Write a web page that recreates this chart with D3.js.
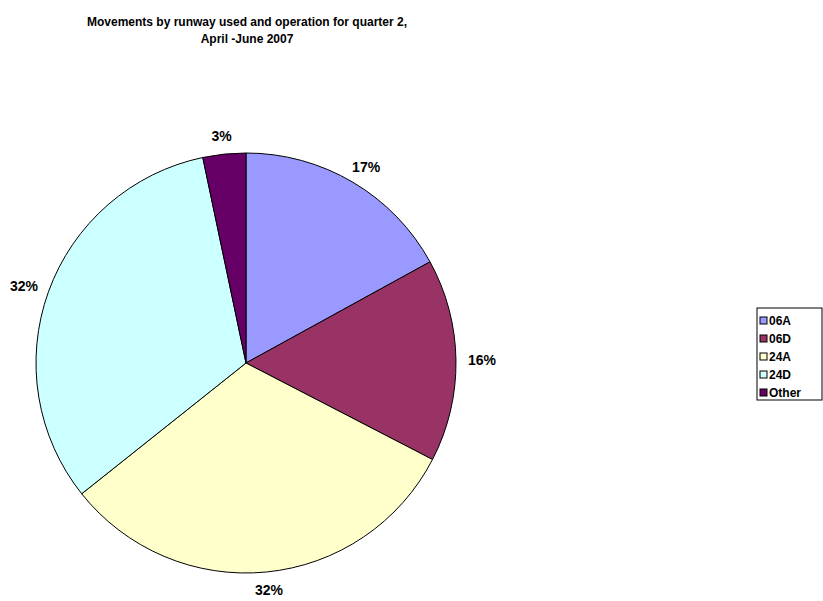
<!DOCTYPE html>
<html>
<head>
<meta charset="utf-8">
<script src="https://cdn.jsdelivr.net/npm/d3@7"></script>
<style>
  body { margin: 0; background: #fff; }
  text { font-family: "Liberation Sans", Arial, sans-serif; font-weight: bold; }
</style>
</head>
<body>
<div id="chart"></div>
<script>
// runway share of movements, Q2 2007
const runways = ["06A", "06D", "24A", "24D", "Other"];
const shares = [17.0, 15.6, 31.7, 32.4, 3.3];
const colours = ["#9999FF", "#993366", "#FFFFCC", "#CCFFFF", "#660066"];
const titleLines = ["Movements by runway used and operation for quarter 2,", "April -June 2007"];

const width = 823, height = 601;
const cx = 246, cy = 363, radius = 210;

const svg = d3.select("#chart")
    .append("svg")
    .attr("width", width)
    .attr("height", height);

// title
svg.append("g")
  .selectAll("text")
  .data(titleLines)
  .join("text")
    .attr("x", 247)
    .attr("y", (d, i) => 26 + i * 17)
    .attr("text-anchor", "middle")
    .style("font-size", "12px")
    .text(d => d);

const data = runways.map((r, i) => ({ name: r, value: shares[i], colour: colours[i] }));

const pie = d3.pie()
  .sort(null)
  .value(d => d.value);

const arc = d3.arc()
  .innerRadius(0)
  .outerRadius(radius);

const g = svg.append("g")
  .attr("transform", `translate(${cx}, ${cy})`);

const arcs = pie(data);

g.selectAll("path")
  .data(arcs)
  .join("path")
    .attr("d", arc)
    .attr("fill", d => d.data.colour)
    .attr("stroke", "#000")
    .attr("stroke-width", 1);

// percentage labels outside the pie
const total = d3.sum(shares);
g.selectAll("text.pct")
  .data(arcs)
  .join("text")
    .attr("class", "pct")
    .attr("x", d => {
      const a = (d.startAngle + d.endAngle) / 2;
      return (radius + 26) * Math.sin(a);
    })
    .attr("y", d => {
      const a = (d.startAngle + d.endAngle) / 2;
      return -(radius + 18) * Math.cos(a) + 5;
    })
    .attr("text-anchor", "middle")
    .style("font-size", "14px")
    .text(d => Math.round(d.data.value / total * 100) + "%");

// legend
const legend = svg.append("g")
  .attr("transform", "translate(757, 308)");

legend.append("rect")
  .attr("width", 65)
  .attr("height", 92)
  .attr("fill", "#fff")
  .attr("stroke", "#000")
  .attr("stroke-width", 1);

const rows = legend.selectAll("g.row")
  .data(data)
  .join("g")
    .attr("class", "row")
    .attr("transform", (d, i) => `translate(0, ${13 + i * 18})`);

rows.append("rect")
  .attr("x", 3)
  .attr("y", -4)
  .attr("width", 7)
  .attr("height", 7)
  .attr("fill", d => d.colour)
  .attr("stroke", "#000")
  .attr("stroke-width", 1);

rows.append("text")
  .attr("x", 12)
  .attr("y", 4)
  .style("font-size", "12px")
  .text(d => d.name);
</script>
</body>
</html>
